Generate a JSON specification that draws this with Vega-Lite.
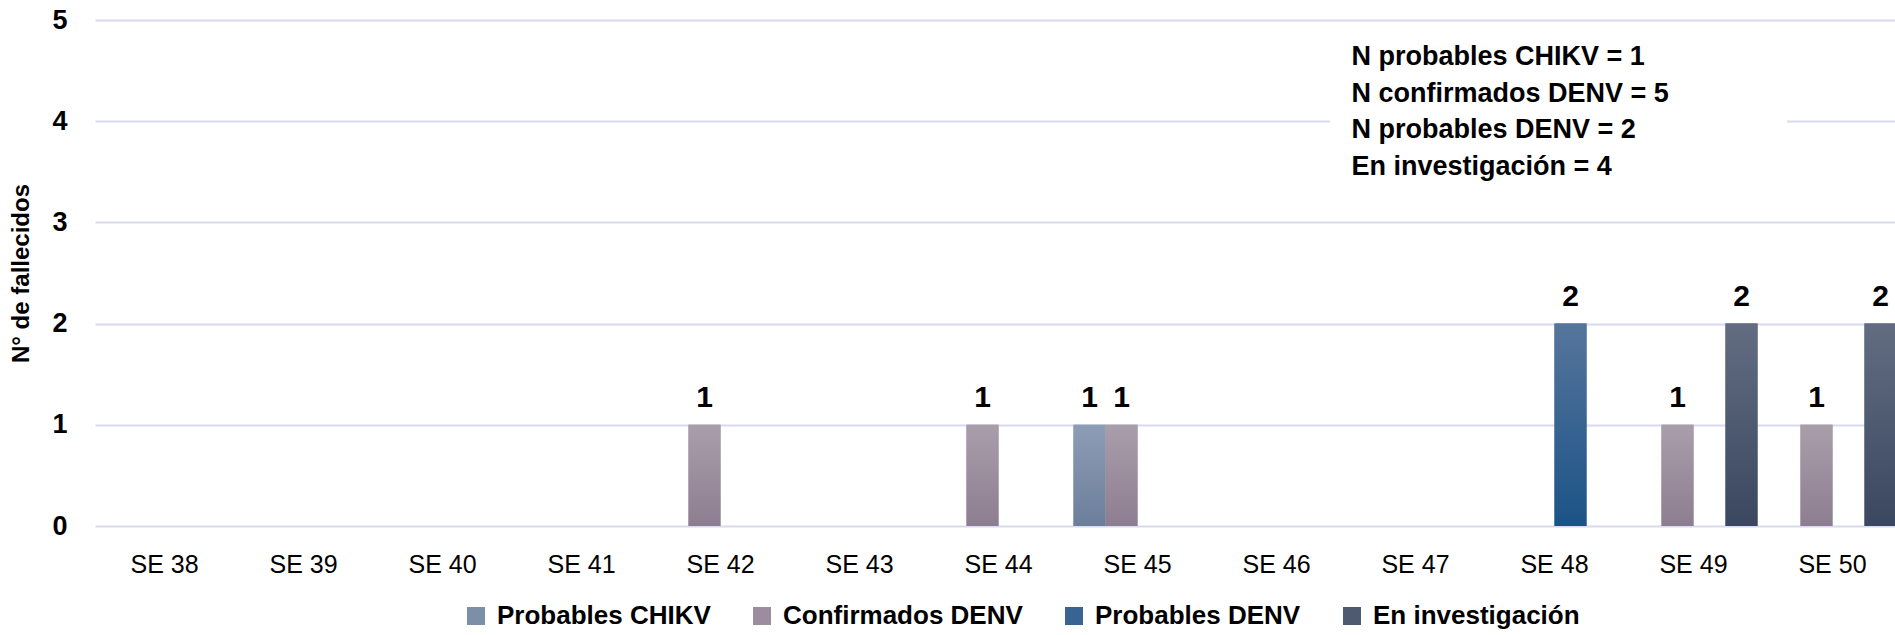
{
  "$schema": "https://vega.github.io/schema/vega-lite/v6.json",
  "autosize": {"type": "none"},
  "padding": {"left": 95, "top": 20, "right": 0, "bottom": 109},
  "width": 1800,
  "height": 506,
  "background": "white",
  "config": {
    "view": {"stroke": null},
    "font": "Liberation Sans",
    "axisX": {"domain": false, "ticks": false, "grid": false, "labelAngle": 0, "labelFontSize": 25, "labelColor": "#000000", "labelPadding": 26, "title": null},
    "axisY": {"domain": false, "ticks": false, "grid": true, "gridColor": "#d9d9f0", "gridWidth": 2, "labelFontSize": 27, "labelFontWeight": "bold", "labelColor": "#000000", "labelPadding": 28, "titleFontSize": 24, "titleFontWeight": "bold", "titleColor": "#000000", "titlePadding": 18, "format": "d"}
  },
  "datasets": {
    "deaths": [
      {"semana": "SE 42", "serie": "Confirmados DENV", "n": 1},
      {"semana": "SE 44", "serie": "Confirmados DENV", "n": 1},
      {"semana": "SE 45", "serie": "Probables CHIKV", "n": 1},
      {"semana": "SE 45", "serie": "Confirmados DENV", "n": 1},
      {"semana": "SE 48", "serie": "Probables DENV", "n": 2},
      {"semana": "SE 49", "serie": "Confirmados DENV", "n": 1},
      {"semana": "SE 49", "serie": "En investigación", "n": 2},
      {"semana": "SE 50", "serie": "Confirmados DENV", "n": 1},
      {"semana": "SE 50", "serie": "En investigación", "n": 2}
    ],
    "notes": [
      {"line": "N probables CHIKV = 1", "pos": 4.555},
      {"line": "N confirmados DENV = 5", "pos": 4.19},
      {"line": "N probables DENV = 2", "pos": 3.834},
      {"line": "En investigación = 4", "pos": 3.468}
    ]
  },
  "layer": [
    {
      "data": {"values": [{}]},
      "mark": {"type": "rect", "fill": "white"},
      "encoding": {
        "x": {"datum": "SE 46", "type": "nominal", "bandPosition": 0.918, "title": null,
              "scale": {"domain": ["SE 38","SE 39","SE 40","SE 41","SE 42","SE 43","SE 44","SE 45","SE 46","SE 47","SE 48","SE 49","SE 50"], "range": [0, 1807], "paddingInner": 0.0791, "paddingOuter": 0.0396}},
        "x2": {"datum": "SE 50", "bandPosition": 0.145},
        "y": {"datum": 4.98, "type": "quantitative", "title": "N° de fallecidos", "scale": {"domain": [0, 5]}},
        "y2": {"datum": 3.24}
      }
    },
    {
      "data": {"name": "deaths"},
      "mark": {"type": "bar"},
      "encoding": {
        "x": {"field": "semana", "type": "nominal", "title": null, "axis": {"values": ["SE 38","SE 39","SE 40","SE 41","SE 42","SE 43","SE 44","SE 45","SE 46","SE 47","SE 48","SE 49","SE 50"]}},
        "xOffset": {"field": "serie", "type": "nominal", "scale": {"domain": ["Probables CHIKV", "Confirmados DENV", "Probables DENV", "En investigación"], "paddingInner": 0, "paddingOuter": 0}},
        "y": {"field": "n", "type": "quantitative", "title": "N° de fallecidos", "axis": {"values": [0, 1, 2, 3, 4, 5], "format": "d"}},
        "color": {
          "field": "serie", "type": "nominal",
          "scale": {
            "domain": ["Probables CHIKV", "Confirmados DENV", "Probables DENV", "En investigación"],
            "range": ["#7d8ea9", "#9b8d9e", "#386491", "#4e5a70"]
          },
          "legend": {
            "title": null, "orient": "none", "legendX": 368, "legendY": 583, "direction": "horizontal", "columns": 4,
            "symbolType": "square", "symbolSize": 324, "symbolStrokeWidth": 0,
            "labelFontSize": 26, "labelFontWeight": "bold", "labelColor": "#000000", "labelLimit": 600, "labelOffset": 8, "columnPadding": 38
          }
        }
      }
    },
    {
      "data": {"name": "deaths"},
      "transform": [{"filter": "datum.serie == 'Probables CHIKV'"}],
      "mark": {"type": "bar", "fill": {"gradient": "linear", "x1": 0, "y1": 0, "x2": 0, "y2": 1, "stops": [{"offset": 0, "color": "#8e9db6"}, {"offset": 1, "color": "#6c7e9a"}]}},
      "encoding": {
        "x": {"field": "semana", "type": "nominal", "title": null},
        "xOffset": {"field": "serie", "type": "nominal"},
        "y": {"field": "n", "type": "quantitative", "title": "N° de fallecidos"}
      }
    },
    {
      "data": {"name": "deaths"},
      "transform": [{"filter": "datum.serie == 'Confirmados DENV'"}],
      "mark": {"type": "bar", "fill": {"gradient": "linear", "x1": 0, "y1": 0, "x2": 0, "y2": 1, "stops": [{"offset": 0, "color": "#a99eab"}, {"offset": 1, "color": "#8d7d90"}]}},
      "encoding": {
        "x": {"field": "semana", "type": "nominal", "title": null},
        "xOffset": {"field": "serie", "type": "nominal"},
        "y": {"field": "n", "type": "quantitative", "title": "N° de fallecidos"}
      }
    },
    {
      "data": {"name": "deaths"},
      "transform": [{"filter": "datum.serie == 'Probables DENV'"}],
      "mark": {"type": "bar", "fill": {"gradient": "linear", "x1": 0, "y1": 0, "x2": 0, "y2": 1, "stops": [{"offset": 0, "color": "#56759c"}, {"offset": 1, "color": "#1b5386"}]}},
      "encoding": {
        "x": {"field": "semana", "type": "nominal", "title": null},
        "xOffset": {"field": "serie", "type": "nominal"},
        "y": {"field": "n", "type": "quantitative", "title": "N° de fallecidos"}
      }
    },
    {
      "data": {"name": "deaths"},
      "transform": [{"filter": "datum.serie == 'En investigación'"}],
      "mark": {"type": "bar", "fill": {"gradient": "linear", "x1": 0, "y1": 0, "x2": 0, "y2": 1, "stops": [{"offset": 0, "color": "#626d82"}, {"offset": 1, "color": "#3a475e"}]}},
      "encoding": {
        "x": {"field": "semana", "type": "nominal", "title": null},
        "xOffset": {"field": "serie", "type": "nominal"},
        "y": {"field": "n", "type": "quantitative", "title": "N° de fallecidos"}
      }
    },
    {
      "data": {"name": "deaths"},
      "mark": {"type": "text", "dy": -18, "baseline": "alphabetic", "fontSize": 30, "fontWeight": "bold", "color": "#000000"},
      "encoding": {
        "x": {"field": "semana", "type": "nominal", "title": null},
        "xOffset": {"field": "serie", "type": "nominal"},
        "y": {"field": "n", "type": "quantitative", "title": "N° de fallecidos"},
        "text": {"field": "n", "type": "quantitative"}
      }
    },
    {
      "data": {"name": "notes"},
      "mark": {"type": "text", "align": "left", "baseline": "alphabetic", "dx": 0, "fontSize": 27, "fontWeight": "bold", "color": "#000000"},
      "encoding": {
        "x": {"datum": "SE 47", "type": "nominal", "bandPosition": 0, "title": null},
        "y": {"field": "pos", "type": "quantitative", "title": "N° de fallecidos"},
        "text": {"field": "line", "type": "nominal"}
      }
    }
  ]
}
